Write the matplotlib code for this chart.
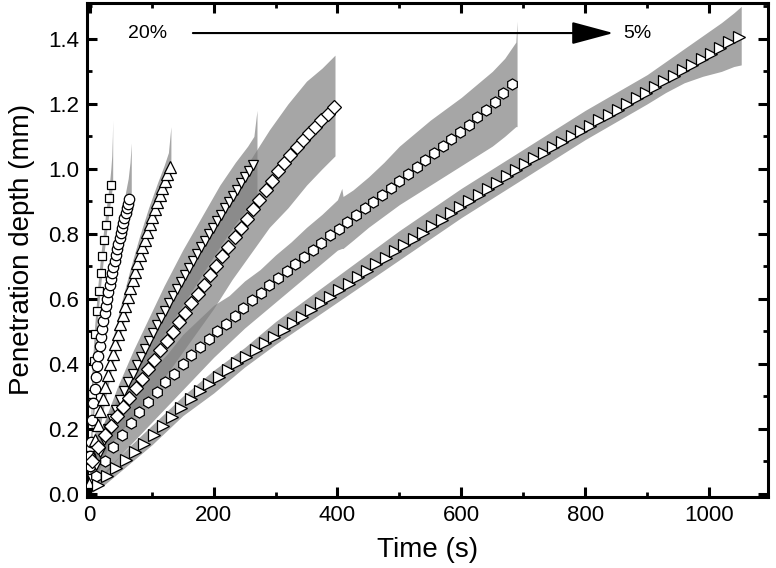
import matplotlib
matplotlib.use('Agg')
import matplotlib.pyplot as plt
from matplotlib.ticker import MultipleLocator

plt.rcParams['font.family'] = ['Liberation Sans', 'DejaVu Sans']

## Marker data (time in s, penetration depth in mm), 20% -> 5%
sq_t = [0.8, 3.6, 6.4, 9.2, 12.0, 14.8, 17.6, 20.4, 23.2, 26.0, 28.8, 31.6, 34.4]
sq_d = [0.145, 0.308, 0.410, 0.492, 0.562, 0.624, 0.680, 0.732, 0.781, 0.827, 0.870, 0.911, 0.951]

circ_t = [0.5, 1, 2, 4, 6, 8, 10, 12, 14, 16, 18, 20, 22, 24, 26, 28, 30, 32, 34, 36,
          38, 40, 42, 44, 46, 48, 50, 52, 54, 56, 58, 60, 62, 64]
circ_d = [0.085, 0.115, 0.160, 0.227, 0.278, 0.321, 0.359, 0.393, 0.424, 0.454, 0.481, 0.507,
          0.532, 0.556, 0.578, 0.600, 0.621, 0.641, 0.661, 0.680, 0.699, 0.717, 0.735, 0.752,
          0.769, 0.786, 0.802, 0.818, 0.833, 0.849, 0.864, 0.878, 0.893, 0.907]

up_t = [1, 5, 9, 13, 17, 21, 25, 29, 33, 37, 41, 45, 49, 53, 57, 61, 65, 69, 73, 77, 81,
        85, 89, 93, 97, 101, 105, 109, 113, 117, 121, 125, 129]
up_d = [0.037, 0.110, 0.165, 0.211, 0.254, 0.293, 0.330, 0.365, 0.399, 0.431, 0.462, 0.492,
        0.521, 0.550, 0.578, 0.605, 0.632, 0.658, 0.683, 0.709, 0.734, 0.758, 0.782, 0.806,
        0.830, 0.852, 0.875, 0.898, 0.920, 0.942, 0.964, 0.985, 1.007]

down_t = [4, 10.5, 17, 23.5, 30, 36.5, 43, 49.5, 56, 62.5, 69, 75.5, 82, 88.5, 95, 101.5,
          108, 114.5, 121, 127.5, 134, 140.5, 147, 153.5, 160, 166.5, 173, 179.5, 186,
          192.5, 199, 205.5, 212, 218.5, 225, 231.5, 238, 244.5, 251, 257.5, 264]
down_d = [0.044, 0.090, 0.129, 0.165, 0.198, 0.229, 0.259, 0.288, 0.316, 0.343, 0.370,
          0.396, 0.421, 0.446, 0.470, 0.494, 0.518, 0.541, 0.564, 0.586, 0.609, 0.630,
          0.652, 0.674, 0.695, 0.716, 0.737, 0.758, 0.778, 0.798, 0.819, 0.839, 0.859,
          0.878, 0.898, 0.917, 0.936, 0.955, 0.974, 0.993, 1.012]

dia_t = [4, 14, 24, 34, 44, 54, 64, 74, 84, 94, 104, 114, 124, 134, 144, 154, 164, 174,
         184, 194, 204, 214, 224, 234, 244, 254, 264, 274, 284, 294, 304, 314, 324, 334,
         344, 354, 364, 374, 384, 394]
dia_d = [0.100, 0.145, 0.180, 0.209, 0.238, 0.267, 0.296, 0.325, 0.354, 0.383, 0.412,
         0.441, 0.470, 0.499, 0.528, 0.557, 0.586, 0.615, 0.644, 0.673, 0.702, 0.731,
         0.760, 0.789, 0.818, 0.847, 0.876, 0.905, 0.934, 0.963, 0.992, 1.017, 1.042,
         1.067, 1.090, 1.110, 1.130, 1.150, 1.170, 1.190]

hex_t = [10, 24, 38, 52, 66, 80, 94, 108, 122, 136, 150, 164, 178, 192, 206, 220, 234,
         248, 262, 276, 290, 304, 318, 332, 346, 360, 374, 388, 402, 416, 430, 444, 458,
         472, 486, 500, 514, 528, 542, 556, 570, 584, 598, 612, 626, 640, 654, 668, 682]
hex_d = [0.055, 0.100, 0.143, 0.182, 0.219, 0.251, 0.282, 0.312, 0.343, 0.370, 0.398,
         0.426, 0.453, 0.476, 0.500, 0.523, 0.547, 0.572, 0.596, 0.618, 0.641, 0.663,
         0.685, 0.707, 0.729, 0.751, 0.773, 0.795, 0.816, 0.837, 0.858, 0.878, 0.899,
         0.919, 0.941, 0.963, 0.985, 1.006, 1.027, 1.048, 1.070, 1.091, 1.114, 1.136,
         1.159, 1.181, 1.205, 1.235, 1.262]

rt_t = [13, 28, 43, 58, 73, 88, 103, 118, 133, 148, 163, 178, 193, 208, 223, 238, 253,
        268, 283, 298, 313, 328, 343, 358, 373, 388, 403, 418, 433, 448, 463, 478, 493,
        508, 523, 538, 553, 568, 583, 598, 613, 628, 643, 658, 673, 688, 703, 718, 733,
        748, 763, 778, 793, 808, 823, 838, 853, 868, 883, 898, 913, 928, 943, 958, 973,
        988, 1003, 1018, 1033, 1048]
rt_d = [0.027, 0.054, 0.080, 0.104, 0.128, 0.152, 0.180, 0.207, 0.235, 0.265, 0.291,
        0.316, 0.337, 0.359, 0.380, 0.401, 0.422, 0.443, 0.463, 0.484, 0.504, 0.525,
        0.545, 0.565, 0.586, 0.606, 0.626, 0.646, 0.666, 0.686, 0.706, 0.726, 0.746,
        0.765, 0.785, 0.804, 0.824, 0.843, 0.863, 0.882, 0.901, 0.920, 0.939, 0.958,
        0.977, 0.996, 1.015, 1.033, 1.050, 1.066, 1.083, 1.100, 1.116, 1.133, 1.149,
        1.166, 1.182, 1.200, 1.217, 1.234, 1.252, 1.269, 1.286, 1.303, 1.320, 1.337,
        1.354, 1.371, 1.389, 1.407]

## Grey scatter bands (time, lower, upper)
sq_bt = [0, 3, 8, 13, 18, 23, 28, 32, 34, 35.5, 36.5, 37]
sq_lo = [0.0, 0.26, 0.42, 0.55, 0.65, 0.74, 0.82, 0.88, 0.91, 0.93, 0.94, 0.95]
sq_hi = [0.06, 0.36, 0.52, 0.64, 0.74, 0.82, 0.90, 0.96, 1.00, 1.04, 1.10, 1.15]

circ_bt = [0, 4, 10, 16, 22, 28, 34, 40, 46, 52, 58, 62, 65, 67]
circ_lo = [0.0, 0.19, 0.32, 0.42, 0.50, 0.57, 0.63, 0.68, 0.73, 0.78, 0.83, 0.86, 0.88, 0.90]
circ_hi = [0.08, 0.27, 0.40, 0.50, 0.58, 0.65, 0.72, 0.78, 0.83, 0.87, 0.93, 0.97, 1.02, 1.08]

up_bt = [0, 5, 15, 25, 35, 50, 65, 80, 95, 110, 120, 127, 131]
up_lo = [0.0, 0.08, 0.19, 0.29, 0.38, 0.49, 0.60, 0.70, 0.79, 0.87, 0.92, 0.95, 0.97]
up_hi = [0.06, 0.15, 0.27, 0.37, 0.46, 0.58, 0.69, 0.79, 0.88, 0.96, 1.01, 1.05, 1.13]

down_bt = [0, 10, 25, 45, 70, 95, 120, 150, 180, 210, 235, 255, 265, 270]
down_lo = [0.0, 0.05, 0.12, 0.21, 0.31, 0.40, 0.49, 0.58, 0.67, 0.76, 0.83, 0.88, 0.91, 0.92]
down_hi = [0.04, 0.13, 0.23, 0.33, 0.44, 0.54, 0.64, 0.75, 0.85, 0.95, 1.02, 1.07, 1.10, 1.18]

dia_bt = [0, 20, 50, 80, 110, 140, 170, 200, 230, 260, 290, 320, 350, 375, 396]
dia_lo = [0.06, 0.12, 0.19, 0.26, 0.33, 0.41, 0.49, 0.57, 0.66, 0.74, 0.82, 0.88, 0.95, 1.00, 1.04]
dia_hi = [0.14, 0.21, 0.31, 0.41, 0.51, 0.61, 0.71, 0.81, 0.92, 1.03, 1.12, 1.20, 1.27, 1.31, 1.35]

hex_bt = [0, 25, 50, 75, 100, 125, 150, 175, 200, 225, 250, 275, 300, 325, 350, 375, 400,
          407, 409, 425, 450, 475, 500, 525, 550, 575, 600, 625, 650, 670, 688, 690]
hex_lo = [0.0, 0.06, 0.12, 0.17, 0.22, 0.27, 0.32, 0.37, 0.42, 0.465, 0.51, 0.55, 0.59,
          0.63, 0.67, 0.71, 0.75, 0.755, 0.755, 0.78, 0.82, 0.855, 0.89, 0.92, 0.95, 0.98,
          1.01, 1.04, 1.07, 1.10, 1.13, 1.13]
hex_hi = [0.06, 0.16, 0.25, 0.31, 0.38, 0.43, 0.49, 0.535, 0.58, 0.61, 0.655, 0.69, 0.735,
          0.775, 0.82, 0.86, 0.905, 0.94, 0.915, 0.935, 0.975, 1.02, 1.07, 1.11, 1.15,
          1.185, 1.22, 1.26, 1.30, 1.34, 1.39, 1.455]

rt_bt = [0, 25, 50, 100, 150, 200, 250, 300, 350, 400, 450, 500, 550, 600, 650, 700, 750,
         800, 850, 900, 930, 960, 990, 1020, 1040, 1052]
rt_lo = [0.0, 0.03, 0.07, 0.15, 0.24, 0.31, 0.39, 0.46, 0.525, 0.59, 0.655, 0.72, 0.785,
         0.85, 0.91, 0.97, 1.03, 1.09, 1.145, 1.20, 1.235, 1.265, 1.285, 1.30, 1.315, 1.32]
rt_hi = [0.03, 0.07, 0.12, 0.21, 0.30, 0.38, 0.45, 0.53, 0.60, 0.67, 0.74, 0.81, 0.875,
         0.94, 1.00, 1.06, 1.12, 1.18, 1.235, 1.29, 1.33, 1.37, 1.41, 1.45, 1.48, 1.50]

bands = [(sq_bt, sq_lo, sq_hi), (circ_bt, circ_lo, circ_hi), (up_bt, up_lo, up_hi),
         (down_bt, down_lo, down_hi), (dia_bt, dia_lo, dia_hi), (hex_bt, hex_lo, hex_hi),
         (rt_bt, rt_lo, rt_hi)]
series = [(sq_t, sq_d, 's', 6), (circ_t, circ_d, 'o', 7.5), (up_t, up_d, '^', 8.5),
          (down_t, down_d, 'v', 7.5), (dia_t, dia_d, 'D', 7), (hex_t, hex_d, 'h', 8),
          (rt_t, rt_d, '>', 8)]

fig = plt.figure(figsize=(7.76, 5.68), dpi=100)
ax = fig.add_axes([0.1125, 0.125, 0.877, 0.870])

for bt, lo, hi in bands:
    ax.fill_between(bt, lo, hi, color='0.5', alpha=0.7, linewidth=0, zorder=1)

for t, d, m, ms in series:
    ax.plot(t, d, linestyle='none', marker=m, markersize=ms, markerfacecolor='white',
            markeredgecolor='black', markeredgewidth=0.9, zorder=3)

## Arrow 20% -> 5%
ax.annotate('', xy=(850, 1.418), xytext=(162, 1.418),
            arrowprops=dict(arrowstyle='-|>,head_length=1.3,head_width=0.35',
                            color='black', lw=1.5, mutation_scale=20))
ax.text(94, 1.418, '20%', fontsize=14, ha='center', va='center')
ax.text(885, 1.418, '5%', fontsize=14, ha='center', va='center')

ax.set_xlim(-4, 1095)
ax.set_ylim(-0.01, 1.511)
ax.xaxis.set_major_locator(MultipleLocator(200))
ax.xaxis.set_minor_locator(MultipleLocator(100))
ax.yaxis.set_major_locator(MultipleLocator(0.2))
ax.yaxis.set_minor_locator(MultipleLocator(0.1))
ax.yaxis.set_major_formatter(matplotlib.ticker.FormatStrFormatter('%.1f'))
ax.tick_params(which='both', direction='in', top=True, right=True, labelsize=16, pad=6)
ax.tick_params(which='major', length=7, width=2.2)
ax.tick_params(which='minor', length=3.5, width=2)
for s in ax.spines.values():
    s.set_linewidth(2.2)

ax.set_xlabel('Time (s)', fontsize=20, labelpad=8)
ax.set_ylabel('Penetration depth (mm)', fontsize=20, labelpad=9)

fig.savefig('out.png', dpi=100)
